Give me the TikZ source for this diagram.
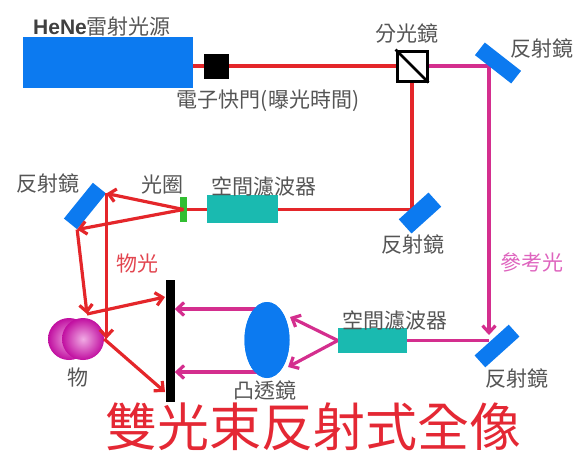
\documentclass[tikz,border=0pt]{standalone}
\usepackage{fontspec}
\setmainfont{Noto Sans CJK TC}
\newfontfamily\hesans{Liberation Sans}
\usetikzlibrary{arrows.meta,shapes.geometric}

\definecolor{laserblue}{RGB}{12,122,240}
\definecolor{beamred}{RGB}{228,38,42}
\definecolor{beampink}{RGB}{212,46,142}
\definecolor{filterteal}{RGB}{26,186,176}
\definecolor{irisgreen}{RGB}{50,190,50}
\definecolor{objmag}{RGB}{214,16,178}
\definecolor{labelgray}{RGB}{85,85,85}
\definecolor{objlight}{RGB}{226,70,80}
\definecolor{reflight}{RGB}{222,100,190}
\definecolor{titlered}{RGB}{228,40,52}

\tikzset{
  redbeam/.style={beamred, line width=3.2pt},
  pinkbeam/.style={beampink, line width=3.2pt},
  beamtip/.style={-{Straight Barb[length=7pt,width=13pt]}},
  mirror/.style={fill=laserblue, minimum width=46pt, minimum height=17pt, inner sep=0pt},
  filterbox/.style={fill=filterteal, minimum width=70pt, minimum height=26pt, inner sep=0pt},
  objball/.style={circle, minimum size=42pt, inner sep=0pt, shading=radial, inner color=objmag!35!white, outer color=objmag!90!black},
  lbl/.style={text=labelgray, font=\fontsize{21}{21}\selectfont, inner sep=0pt},
}

\begin{document}
\begin{tikzpicture}[x=1pt, y=-1pt]

\useasboundingbox (0,0) rectangle (577,461);

\node[fill=laserblue, minimum width=170pt, minimum height=51pt, inner sep=0pt] (laser) at (108,62.5) {};
\node[fill=black, minimum size=25pt, inner sep=0pt] (shutter) at (216,66) {};
\node[draw=black, line width=3pt, fill=white, minimum size=30pt, inner sep=0pt] (splitter) at (412,66) {};

\node[filterbox, minimum width=71pt, minimum height=28pt] (filter1) at (242.5,209) {};
\node[fill=irisgreen, minimum width=7pt, minimum height=25pt, inner sep=0pt] (aperture) at (183.5,209.5) {};
\node[filterbox, minimum width=69pt, minimum height=25pt] (filter2) at (372.5,340.5) {};

\node[fill=laserblue, ellipse, minimum width=45pt, minimum height=76pt, inner sep=0pt] (lens) at (267,340) {};
\node[fill=black, minimum width=9pt, minimum height=122pt, inner sep=0pt] (plate) at (170,341) {};

\coordinate (hitD) at (489,335);
\coordinate (objtop) at (87,314);
\coordinate (plateU) at (165,297);
\coordinate (plateL) at (165,392);
\coordinate (lensU) at (290,317);
\coordinate (lensL) at (288,367);
\coordinate (lensA) at (258,309);
\coordinate (lensB) at (258,372);

% red object beam
\draw[redbeam] (laser.east |- shutter) -- (splitter.west);
\draw[redbeam] (splitter.south) |- (aperture.center);

% pink reference beam
\draw[pinkbeam, beamtip] (splitter.east) -| (hitD);
\draw[pinkbeam] (hitD |- filter2) -- (filter2.east);
\draw[pinkbeam, beamtip] (filter2.west) -- (lensU);
\draw[pinkbeam, beamtip] (filter2.west) -- (lensL);
\draw[pinkbeam, beamtip] (lensA) -- (plate.east |- lensA);
\draw[pinkbeam, beamtip] (lensB) -- (plate.east |- lensB);

\node[mirror, rotate=-38, minimum height=16pt] (mirA) at (498,63) {};
\node[mirror, rotate=42, minimum width=40pt, minimum height=19pt] (mirB) at (420,213) {};
\node[mirror, rotate=51] (mirC) at (85,206) {};
\node[mirror, rotate=42, minimum height=16pt] (mirD) at (497,346) {};

\node[objball] (objL) at (69,339) {};
\node[objball] (objR) at (83,339) {};

\node[fill=black, minimum size=25pt, inner sep=0pt] at (shutter) {};
\node[filterbox, minimum width=71pt, minimum height=28pt] at (filter1) {};
\node[fill=irisgreen, minimum width=7pt, minimum height=25pt, inner sep=0pt] at (aperture) {};
\node[filterbox, minimum width=69pt, minimum height=25pt] at (filter2) {};
\node[fill=laserblue, ellipse, minimum width=45pt, minimum height=76pt, inner sep=0pt] at (lens) {};
\draw[line width=2.6pt] (splitter.north west) -- (splitter.south east);

\draw[redbeam, beamtip] (aperture.center) -- (mirC.south east);
\draw[redbeam, beamtip] (aperture.center) -- (mirC.south west);
\draw[redbeam, beamtip] (mirC.south east) -- (mirC.south east |- objR.center);
\draw[redbeam, beamtip] (mirC.south west) -- (objtop);
\draw[redbeam, beamtip] (objtop) -- (plateU);
\draw[redbeam, beamtip] (objR.east) -- (plateL);

\node[lbl, anchor=west] (laserlbl) at (33,27) {{\hesans\bfseries\color{black!75}HeNe}雷射光源};
\node[lbl] (shutterlbl) at (268,101) {電子快門(曝光時間)};
\node[lbl] (splitlbl) at (407,34) {分光鏡};
\node[lbl] (mirAlbl) at (542,48) {反射鏡};
\node[lbl] (mirClbl) at (48,183) {反射鏡};
\node[lbl] (irislbl) at (162,185) {光圈};
\node[lbl] (filt1lbl) at (264,186) {空間濾波器};
\node[lbl] (mirBlbl) at (413,244) {反射鏡};
\node[lbl, text=reflight] (reflbl) at (532,262) {參考光};
\node[lbl, text=objlight] (objbeamlbl) at (137,264) {物光};
\node[lbl] (filt2lbl) at (395,320) {空間濾波器};
\node[lbl] (objlbl) at (78,378) {物};
\node[lbl] (lenslbl) at (265,390) {凸透鏡};
\node[lbl] (mirDlbl) at (517,378) {反射鏡};

\node[text=titlered, font=\fontsize{52}{52}\selectfont, inner sep=0pt] (title) at (313,427) {雙光束反射式全像};

\end{tikzpicture}
\end{document}
